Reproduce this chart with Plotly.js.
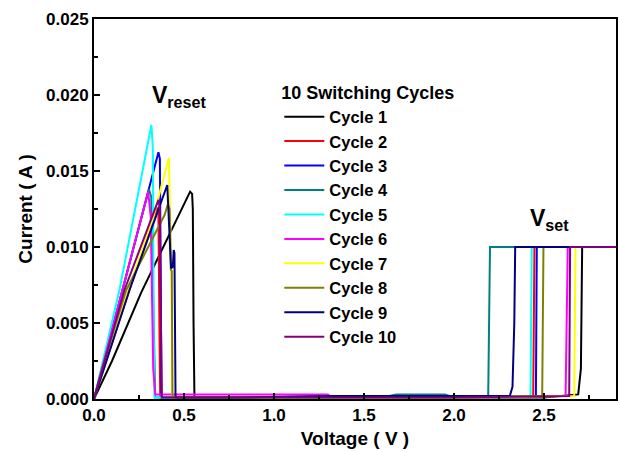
<!DOCTYPE html>
<html>
<head>
<meta charset="utf-8">
<script src="https://cdn.plot.ly/plotly-3.0.1.min.js"></script>
<style>html,body{margin:0;padding:0;background:#fff;}#chart{width:620px;height:452px;}</style>
</head>
<body>
<div id="chart"></div>
<script>
// ---- data ----
const cycleNames = ["Cycle 1","Cycle 2","Cycle 3","Cycle 4","Cycle 5","Cycle 6","Cycle 7","Cycle 8","Cycle 9","Cycle 10"];
const cycleColors = ["#000000","#ff0000","#0000ff","#008080","#00ffff","#ff00ff","#ffff00","#808000","#000080","#800080"];

const v1 = [0, 0.1, 0.262, 0.4, 0.52, 0.534, 0.545, 0.549, 0.553, 0.558, 0.6, 1.0, 1.5, 2.0, 2.5, 2.69, 2.705, 2.712, 2.9];
const i1 = [0, 0.0025, 0.0070, 0.0104, 0.0134, 0.01364, 0.0135, 0.0125, 0.005, 0.0001, 0.0001, 0.0001, 0.0001, 0.0001, 0.0001, 0.0003, 0.002, 0.01, 0.01];

const v2 = [0, 0.15, 0.35, 0.358, 0.364, 0.368, 0.8, 1.5, 2.0, 2.44, 2.447, 2.9];
const i2 = [0, 0.0055, 0.0126, 0.0122, 0.004, 0.0001, 0.0001, 0.0001, 0.0001, 0.0002, 0.01, 0.01];

const v3 = [0, 0.157, 0.358, 0.366, 0.371, 0.375, 0.6, 1.2, 2.0, 2.455, 2.46, 2.9];
const i3 = [0, 0.0071, 0.01623, 0.0158, 0.008, 0.0001, 0.0001, 0.0001, 0.0001, 0.0002, 0.01, 0.01];

const v4 = [0, 0.15, 0.305, 0.318, 0.334, 0.34, 0.8, 1.6, 1.68, 1.95, 2.0, 2.19, 2.2, 2.9];
const i4 = [0, 0.0068, 0.0138, 0.0133, 0.004, 0.0001, 0.0001, 0.0001, 0.0003, 0.0003, 0.0001, 0.0002, 0.01, 0.01];

const v5 = [0, 0.142, 0.319, 0.327, 0.332, 0.336, 0.8, 1.5, 2.0, 2.425, 2.432, 2.9];
const i5 = [0, 0.0072, 0.01803, 0.0165, 0.004, 0.0001, 0.0001, 0.0001, 0.0001, 0.0002, 0.01, 0.01];

const v6 = [0, 0.157, 0.301, 0.315, 0.325, 0.329, 0.34, 0.8, 1.3, 1.32, 2.0, 2.62, 2.632, 2.9];
const i6 = [0, 0.0071, 0.01364, 0.012, 0.005, 0.002, 0.0003, 0.0003, 0.0003, 0.0001, 0.0001, 0.0002, 0.01, 0.01];

const v7 = [0, 0.2, 0.33, 0.416, 0.423, 0.428, 0.431, 0.435, 0.8, 1.5, 2.0, 2.668, 2.675, 2.9];
const i7 = [0, 0.0075, 0.0120, 0.01586, 0.012, 0.0085, 0.0084, 0.0001, 0.0001, 0.0001, 0.0001, 0.0002, 0.01, 0.01];

const v8 = [0, 0.05, 0.179, 0.392, 0.41, 0.42, 0.427, 0.432, 0.436, 0.8, 1.5, 2.0, 2.49, 2.497, 2.9];
const i8 = [0, 0.0022, 0.00717, 0.0121, 0.0128, 0.0125, 0.0085, 0.0084, 0.0001, 0.0001, 0.0001, 0.0001, 0.0002, 0.01, 0.01];

const v9 = [0, 0.197, 0.407, 0.418, 0.428, 0.438, 0.443, 0.447, 0.449, 0.453, 0.8, 1.3, 2.0, 2.31, 2.325, 2.335, 2.34, 2.9];
const i9 = [0, 0.00717, 0.01408, 0.0105, 0.0086, 0.0087, 0.0098, 0.0096, 0.004, 0.0001, 0.0001, 0.0002, 0.0002, 0.0002, 0.0008, 0.005, 0.01, 0.01];

const v10 = [0, 0.169, 0.358, 0.366, 0.372, 0.377, 0.8, 1.5, 2.0, 2.64, 2.645, 2.9];
const i10 = [0, 0.00717, 0.0131, 0.0125, 0.005, 0.0001, 0.0001, 0.0001, 0.0001, 0.0002, 0.01, 0.01];

const xTickVals = [0, 0.5, 1.0, 1.5, 2.0, 2.5];
const xTickText = ["0.0", "0.5", "1.0", "1.5", "2.0", "2.5"];
const yTickVals = [0, 0.005, 0.010, 0.015, 0.020, 0.025];
const yTickText = ["0.000", "0.005", "0.010", "0.015", "0.020", "0.025"];

// ---- build ----
const vs = [v1, v2, v3, v4, v5, v6, v7, v8, v9, v10];
const is = [i1, i2, i3, i4, i5, i6, i7, i8, i9, i10];
const FONT = "Liberation Sans, Arial, Helvetica, sans-serif";

const traces = vs.map((v, k) => ({
  x: v, y: is[k], type: "scatter", mode: "lines",
  name: "<b>" + cycleNames[k] + "</b>",
  legendgroup: "g" + k,
  line: {color: cycleColors[k], width: 2}
}));

const layout = {
  width: 620, height: 452,
  margin: {l: 94, r: 4, t: 19, b: 53},
  paper_bgcolor: "#ffffff", plot_bgcolor: "#ffffff",
  font: {family: FONT, color: "#000", size: 17},
  showlegend: true,
  legend: {
    x: 0.355, y: 0.85, xanchor: "left", yanchor: "top",
    bgcolor: "rgba(0,0,0,0)", borderwidth: 0,
    font: {family: FONT, size: 16.5, color: "#000"},
    title: {text: "<b>10 Switching Cycles</b>", font: {family: FONT, size: 18, color: "#000"}},
    tracegroupgap: 0, itemwidth: 40
  },
  xaxis: {
    range: [0, 2.9], showgrid: false, zeroline: false,
    showline: true, linecolor: "#000", linewidth: 2, mirror: true,
    ticks: "inside", ticklen: 6, tickwidth: 1.5, tickcolor: "#000",
    tickvals: xTickVals, ticktext: xTickText.map(t => "<b>" + t + "</b>"),
    tickfont: {family: FONT, size: 17, color: "#000"},
    minor: {ticks: "inside", ticklen: 4, tickwidth: 1.5, tickcolor: "#000", dtick: 0.25, showgrid: false},
    title: {text: "<b>Voltage ( V )</b>", font: {family: FONT, size: 19, color: "#000"}, standoff: 7}
  },
  yaxis: {
    range: [0, 0.025], showgrid: false, zeroline: false,
    showline: true, linecolor: "#000", linewidth: 2, mirror: true,
    ticks: "inside", ticklen: 6, tickwidth: 1.5, tickcolor: "#000",
    tickvals: yTickVals, ticktext: yTickText.map(t => "<b>" + t + "</b>"),
    tickfont: {family: FONT, size: 17, color: "#000"},
    minor: {ticks: "inside", ticklen: 4, tickwidth: 1.5, tickcolor: "#000", dtick: 0.0025, showgrid: false},
    title: {text: "<b>Current ( A )</b>", font: {family: FONT, size: 19, color: "#000"}, standoff: 8}
  },
  annotations: [
    {xref: "x", yref: "y", x: 0.47, y: 0.0199, text: "<b>V<sub>reset</sub></b>", showarrow: false,
     font: {family: FONT, size: 23, color: "#000"}},
    {xref: "x", yref: "y", x: 2.53, y: 0.0118, text: "<b>V<sub>set</sub></b>", showarrow: false,
     font: {family: FONT, size: 23, color: "#000"}}
  ]
};

Plotly.newPlot("chart", traces, layout, {displayModeBar: false, staticPlot: true});
</script>
</body>
</html>
